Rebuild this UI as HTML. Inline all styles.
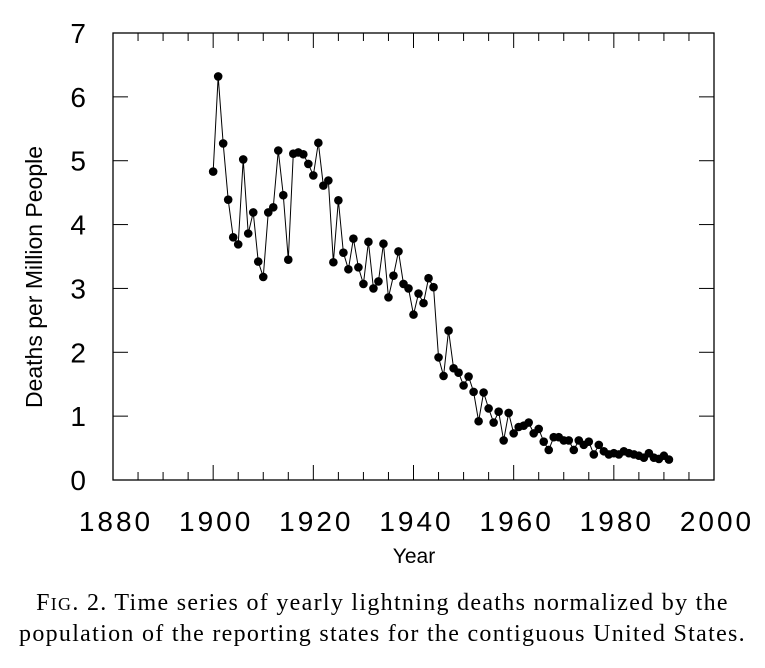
<!DOCTYPE html>
<html><head><meta charset="utf-8"><style>
body{margin:0;background:#fff;width:765px;height:668px;overflow:hidden}
.cap{position:absolute;left:0;width:765px;top:588px;text-align:center;font-family:"Liberation Serif",serif;font-size:24px;letter-spacing:1.3px;line-height:30px;color:#000;white-space:nowrap}
.sc{font-size:18px}
</style></head><body>
<svg id="chart" width="765" height="580" style="position:absolute;left:0;top:0" font-family="Liberation Sans, sans-serif"></svg>
<div class="cap">F<span class="sc">IG</span>. 2. Time series of yearly lightning deaths normalized by the<br>population of the reporting states for the contiguous United States.</div>
<script>
const years = [];
for (let y = 1900; y <= 1991; y++) years.push(y);
const deaths = [4.83,6.32,5.27,4.39,3.80,3.69,5.02,3.86,4.19,3.42,3.18,4.19,4.27,5.16,4.46,3.45,5.11,5.13,5.10,4.95,
4.77,5.28,4.61,4.69,3.41,4.38,3.56,3.30,3.78,3.33,3.07,3.73,3.00,3.11,3.70,2.86,3.20,3.58,3.07,3.00,
2.59,2.92,2.77,3.16,3.02,1.92,1.63,2.34,1.75,1.68,1.48,1.62,1.38,0.92,1.37,1.12,0.90,1.07,0.62,1.05,
0.73,0.83,0.85,0.90,0.73,0.80,0.60,0.47,0.67,0.67,0.62,0.62,0.47,0.62,0.55,0.60,0.40,0.55,0.45,0.40,
0.42,0.40,0.45,0.42,0.40,0.38,0.35,0.42,0.35,0.33,0.38,0.32];
const xTicks = [1880,1900,1920,1940,1960,1980,2000];
const yTicks = [0,1,2,3,4,5,6,7];
const X0=113,X1=714,Y0=480,Y1=33;
const xs = y => X0 + (y-1880)/(2000-1880)*(X1-X0);
const ys = v => Y0 - v/7*(Y0-Y1);
const svg = document.getElementById('chart');
const NS='http://www.w3.org/2000/svg';
function mk(t,a){const e=document.createElementNS(NS,t);for(const k in a)e.setAttribute(k,a[k]);svg.appendChild(e);return e;}
const frame = mk('rect',{x:X0,y:Y1,width:X1-X0,height:Y0-Y1,fill:'none',stroke:'#000','stroke-width':1.3});


for(let y=1880;y<=2000;y+=5){
  const L = (y%20===0)?15:8, x=xs(y);
  const t1=mk('line',{x1:x,x2:x,y1:Y0,y2:Y0-L,stroke:'#000','stroke-width':1});
  
  
  const t2=mk('line',{x1:x,x2:x,y1:Y1,y2:Y1+L,stroke:'#000','stroke-width':1});
  
  
}
xTicks.forEach(y=>{
  const t=mk('text',{x:xs(y)+3,y:531,'text-anchor':'middle','font-size':28,'letter-spacing':'3'});
  t.textContent=y;
  
  
});
yTicks.forEach(v=>{
  const yy=ys(v);
  const a=mk('line',{x1:X0,x2:X0+15,y1:yy,y2:yy,stroke:'#000'});
  
  
  const b=mk('line',{x1:X1,x2:X1-15,y1:yy,y2:yy,stroke:'#000'});
  
  
  const t=mk('text',{x:86,y:yy+10,'text-anchor':'end','font-size':28});
  t.textContent=v;
  
  
});
const xt=mk('text',{x:414,y:563,'text-anchor':'middle','font-size':21});
xt.textContent='Year';


const yt=mk('text',{x:0,y:0,'text-anchor':'middle','font-size':23,transform:'translate(42,277) rotate(-90)'});
yt.textContent='Deaths per Million People';


const line=mk('polyline',{points:years.map((y,i)=>xs(y)+','+ys(deaths[i])).join(' '),fill:'none',stroke:'#000','stroke-width':1});


years.forEach((y,i)=>{
  const c=mk('circle',{cx:xs(y),cy:ys(deaths[i]),r:4.3,fill:'#000'});
  
  
});
</script>
</body></html>
